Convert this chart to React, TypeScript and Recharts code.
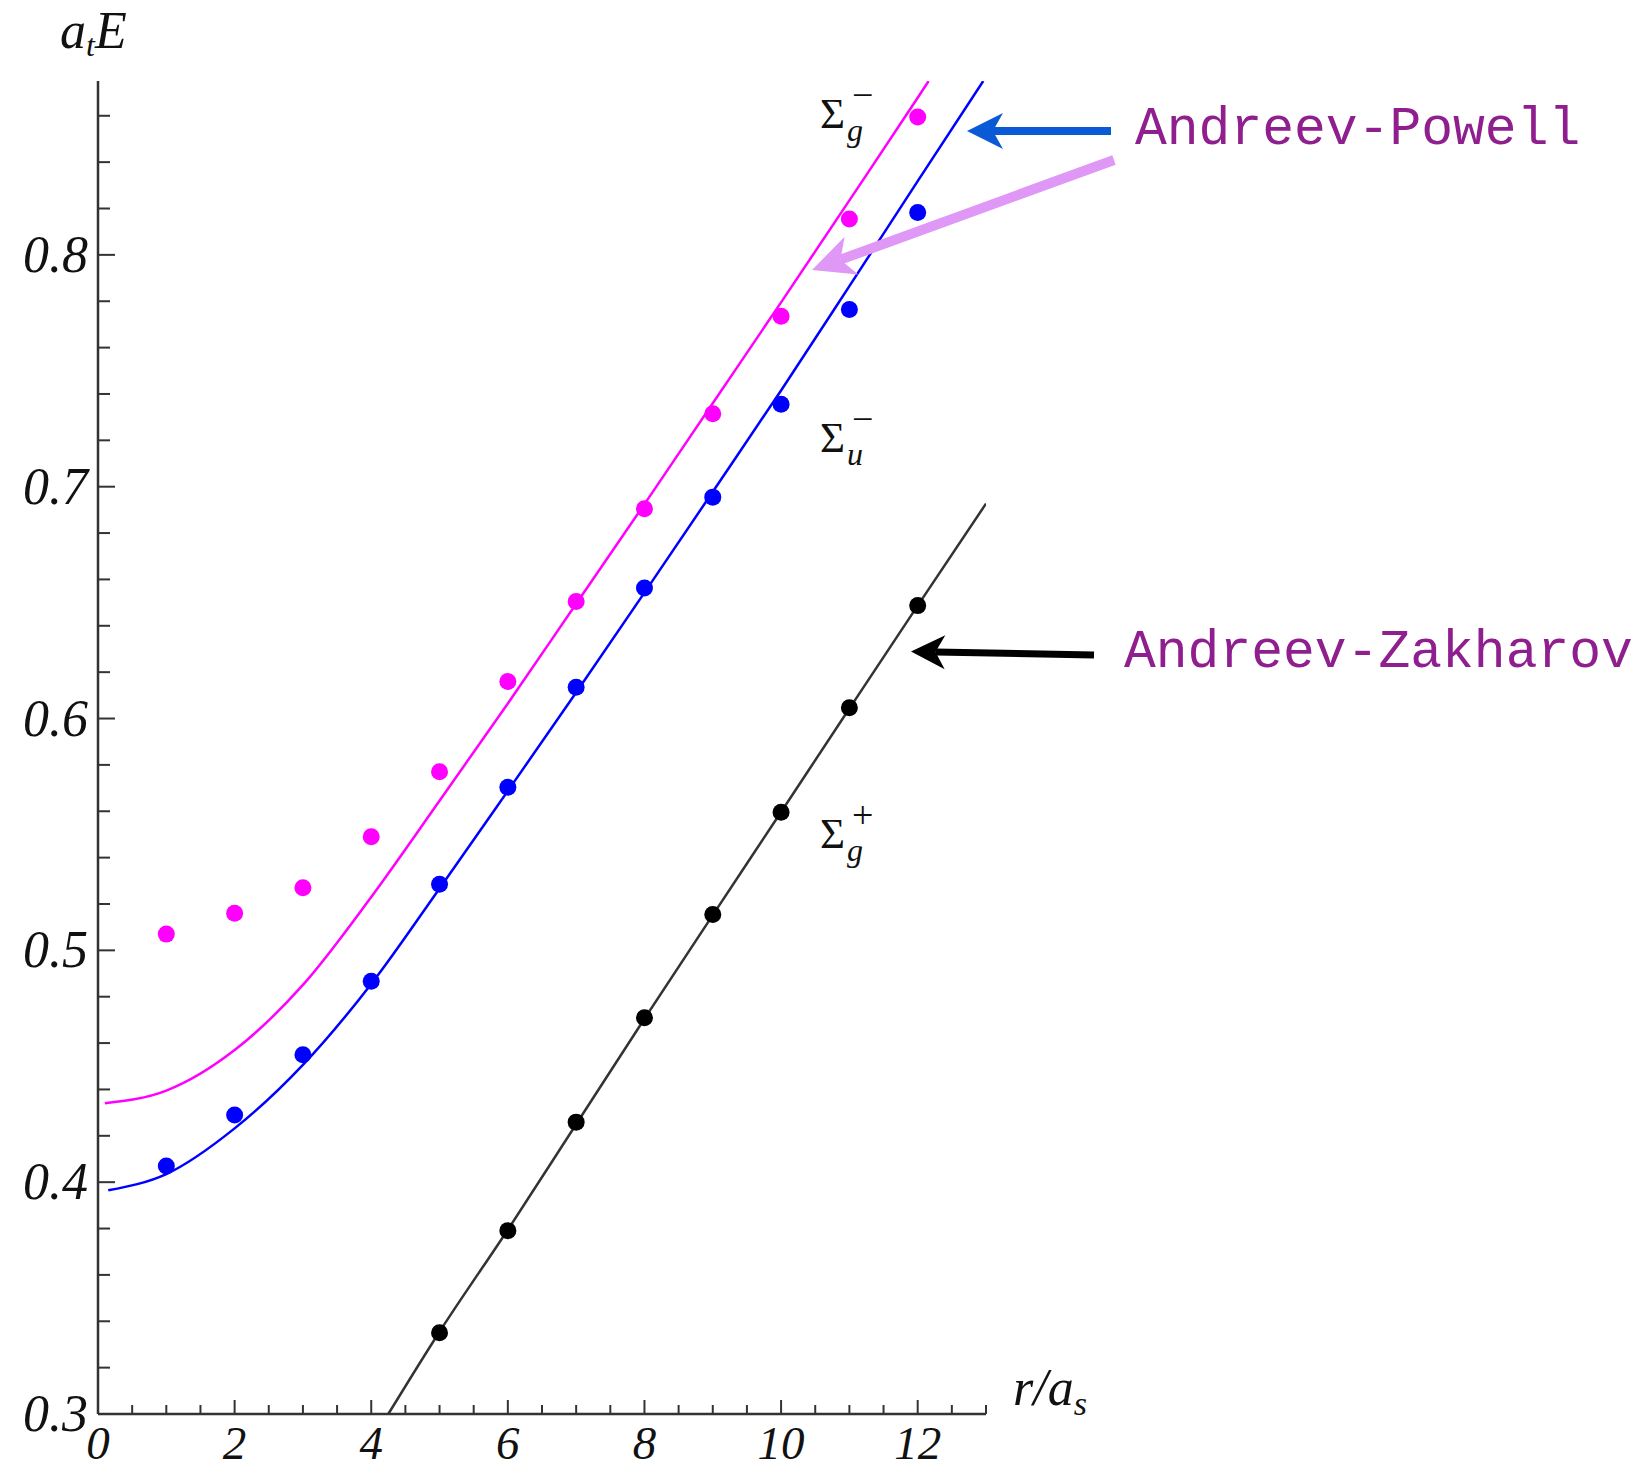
import React from "react";
import { ComposedChart, Line, Scatter, XAxis, YAxis } from "recharts";

const W = 1652;
const H = 1473;

// lattice data (r/a_s, a_t E)
const latticeR = [1, 2, 3, 4, 5, 6, 7, 8, 9, 10, 11, 12];
const sigmaGMinus = [0.507, 0.516, 0.527, 0.549, 0.577, 0.616, 0.6505, 0.6905, 0.7315, 0.7735, 0.8155, 0.8595];
const sigmaUMinus = [0.407, 0.429, 0.455, 0.4867, 0.5285, 0.5704, 0.6135, 0.6563, 0.6955, 0.7356, 0.7764, 0.8183];
const sigmaGPlusR = [5, 6, 7, 8, 9, 10, 11, 12];
const sigmaGPlus = [0.335, 0.3791, 0.4259, 0.4709, 0.5155, 0.5596, 0.6046, 0.6487];

// string model curves
const powellGR = [0.1, 1, 2, 3, 4, 5, 6, 7, 8, 9, 10, 11, 12, 12.16];
const powellG = [0.434, 0.4395, 0.457, 0.4851, 0.523, 0.5645, 0.6065, 0.6495, 0.6925, 0.736, 0.7795, 0.8235, 0.8678, 0.875];
const powellUR = [0.15, 1, 2, 3, 4, 5, 6, 7, 8, 9, 10, 11, 12, 12.96];
const powellU = [0.3965, 0.4035, 0.4232, 0.4506, 0.4855, 0.5267, 0.5688, 0.6112, 0.6543, 0.6978, 0.7415, 0.7865, 0.8318, 0.875];
const zakharovR = [4.25, 5, 6, 7, 8, 9, 10, 11, 12, 13];
const zakharov = [0.3, 0.3355, 0.3795, 0.425, 0.4705, 0.5152, 0.5597, 0.6043, 0.6487, 0.6927];

const xTicks = [0, 0.5, 1, 1.5, 2, 2.5, 3, 3.5, 4, 4.5, 5, 5.5, 6, 6.5, 7, 7.5, 8, 8.5, 9, 9.5, 10, 10.5, 11, 11.5, 12, 12.5, 13];
const xLabels = [0, 2, 4, 6, 8, 10, 12];
const yTicks = [0.3, 0.32, 0.34, 0.36, 0.38, 0.4, 0.42, 0.44, 0.46, 0.48, 0.5, 0.52, 0.54, 0.56, 0.58, 0.6, 0.62, 0.64, 0.66, 0.68, 0.7, 0.72, 0.74, 0.76, 0.78, 0.8, 0.82, 0.84, 0.86];
const yLabels = [0.3, 0.4, 0.5, 0.6, 0.7, 0.8];

const rows = (r: number[], e: number[]) => r.map((v, i) => ({ r: v, E: e[i] }));

const serif = "'Liberation Serif', 'Times New Roman', serif";
const axisColor = "#333";

function XTick(props: any) {
  const { x, y, payload } = props;
  const major = xLabels.some((l) => Math.abs(l - payload.value) < 1e-6);
  return (
    <g>
      <line x1={x} y1={y} x2={x} y2={y - (major ? 14 : 9)} stroke={axisColor} strokeWidth={2} />
      {major && (
        <text x={x} y={y + 45} textAnchor="middle" fontFamily={serif} fontStyle="italic" fontSize={47} fill="#111">
          {String(payload.value)}
        </text>
      )}
    </g>
  );
}

function YTick(props: any) {
  const { x, y, payload } = props;
  const major = yLabels.some((l) => Math.abs(l - payload.value) < 1e-6);
  return (
    <g>
      <line x1={x} y1={y} x2={x + (major ? 17 : 12)} y2={y} stroke={axisColor} strokeWidth={2} />
      {major && (
        <text x={x - 10} y={y + 17} textAnchor="end" fontFamily={serif} fontStyle="italic" fontSize={52} fill="#111">
          {payload.value.toFixed(1)}
        </text>
      )}
    </g>
  );
}

function dot(color: string, r: number) {
  return (p: any) => <circle cx={p.cx} cy={p.cy} r={r} fill={color} />;
}

function Arrow({ x1, y1, x2, y2, color, w, headLen, headHalf }: any) {
  const len = Math.hypot(x2 - x1, y2 - y1);
  const ux = (x2 - x1) / len;
  const uy = (y2 - y1) / len;
  const px = -uy;
  const py = ux;
  const bx = x2 - ux * headLen;
  const by = y2 - uy * headLen;
  const nx = x2 - ux * headLen * 0.72;
  const ny = y2 - uy * headLen * 0.72;
  const pts = [
    [x2, y2],
    [bx + px * headHalf, by + py * headHalf],
    [nx, ny],
    [bx - px * headHalf, by - py * headHalf],
  ]
    .map((q) => q.join(","))
    .join(" ");
  return (
    <g>
      <line x1={x1} y1={y1} x2={nx} y2={ny} stroke={color} strokeWidth={w} />
      <polygon points={pts} fill={color} />
    </g>
  );
}

function SigmaLabel({ x, y, sub, sup }: any) {
  return (
    <g fontFamily={serif} fill="#111">
      <text x={x} y={y} fontSize={43}>Σ</text>
      <text x={x + 27} y={y + 13} fontSize={32} fontStyle="italic">{sub}</text>
      <text x={x + 32} y={y - 20} fontSize={38}>{sup}</text>
    </g>
  );
}

export default function App() {
  return (
    <div style={{ position: "relative", width: W, height: H, background: "#fff" }}>
      <style>{"body{margin:0}"}</style>
      <ComposedChart width={W} height={H} margin={{ top: 81, right: 666, bottom: 9, left: 38 }}>
        <XAxis
          type="number"
          dataKey="r"
          domain={[0, 13]}
          ticks={xTicks}
          interval={0}
          height={50}
          tickSize={0}
          tickMargin={0}
          tickLine={false}
          tick={XTick}
          axisLine={{ stroke: axisColor, strokeWidth: 2.5 }}
          allowDataOverflow
        />
        <YAxis
          type="number"
          dataKey="E"
          domain={[0.3, 0.875]}
          ticks={yTicks}
          interval={0}
          width={60}
          tickSize={0}
          tickMargin={0}
          tickLine={false}
          tick={YTick}
          axisLine={{ stroke: axisColor, strokeWidth: 2.5 }}
          allowDataOverflow
        />
        <Line data={rows(powellGR, powellG)} dataKey="E" type="monotone" stroke="#ff00ff" strokeWidth={2.5} dot={false} isAnimationActive={false} />
        <Line data={rows(powellUR, powellU)} dataKey="E" type="monotone" stroke="#0000ff" strokeWidth={2.5} dot={false} isAnimationActive={false} />
        <Line data={rows(zakharovR, zakharov)} dataKey="E" type="monotone" stroke="#333" strokeWidth={2.5} dot={false} isAnimationActive={false} />
        <Scatter data={rows(latticeR, sigmaGMinus)} shape={dot("#ff00ff", 8.5)} isAnimationActive={false} />
        <Scatter data={rows(latticeR, sigmaUMinus)} shape={dot("#0000ff", 8.5)} isAnimationActive={false} />
        <Scatter data={rows(sigmaGPlusR, sigmaGPlus)} shape={dot("#000", 8.5)} isAnimationActive={false} />
      </ComposedChart>
      <svg width={W} height={H} style={{ position: "absolute", left: 0, top: 0, pointerEvents: "none" }}>
        <text x={60} y={48} fontFamily={serif} fontStyle="italic" fontSize={52} fill="#111">
          a<tspan fontSize={32} dy={8}>t</tspan>
          <tspan fontSize={52} dy={-8}>E</tspan>
        </text>
        <text x={1013} y={1405} fontFamily={serif} fontStyle="italic" fontSize={52} fill="#111">
          r/a<tspan fontSize={34} dy={10}>s</tspan>
        </text>
        <SigmaLabel x={820} y={128} sub="g" sup="−" />
        <SigmaLabel x={820} y={452} sub="u" sup="−" />
        <SigmaLabel x={820} y={848} sub="g" sup="+" />
        <Arrow x1={1111} y1={131} x2={967} y2={131} color="#0a5ad6" w={8} headLen={36} headHalf={18} />
        <Arrow x1={1114} y1={160} x2={812} y2={270} color="#df98f5" w={10} headLen={42} headHalf={20} />
        <Arrow x1={1094} y1={655} x2={911} y2={651.5} color="#000" w={7} headLen={34} headHalf={17} />
        <text x={1135} y={144} fontFamily="'Liberation Mono', 'Courier New', monospace" fontSize={53} fill="#8f1f8f">
          Andreev-Powell
        </text>
        <text x={1124} y={667} fontFamily="'Liberation Mono', 'Courier New', monospace" fontSize={53} fill="#8f1f8f">
          Andreev-Zakharov
        </text>
      </svg>
    </div>
  );
}
